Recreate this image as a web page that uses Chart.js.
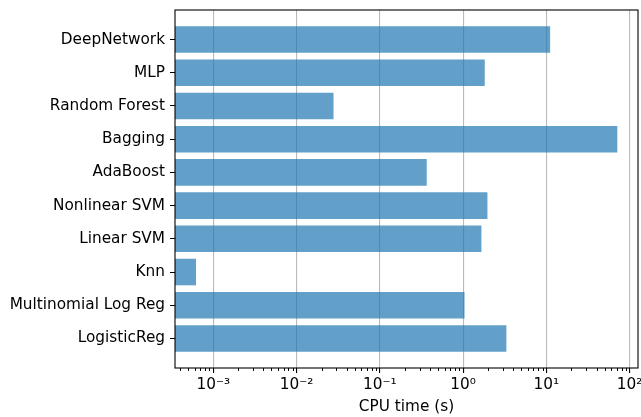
<!DOCTYPE html>
<html>
<head>
<meta charset="utf-8">
<script src="https://cdn.jsdelivr.net/npm/chart.js@4.4.1/dist/chart.umd.min.js"></script>
<style>
  html, body { margin:0; padding:0; background:#fff; }
  #wrap { width:641px; height:417px; }
</style>
</head>
<body>
<div id="wrap"><canvas id="c" width="641" height="417"></canvas></div>
<script>
// Data
const models = ['DeepNetwork', 'MLP', 'Random Forest', 'Bagging', 'AdaBoost', 'Nonlinear SVM', 'Linear SVM', 'Knn', 'Multinomial Log Reg', 'LogisticReg'];
const cpuTime = [11.1, 1.82, 0.0278, 71.1, 0.366, 1.96, 1.66, 0.00062, 1.04, 3.31];
const majorTicks = [1e-3, 1e-2, 1e-1, 1e0, 1e1, 1e2];
const majorLabels = ['10⁻³', '10⁻²', '10⁻¹', '10⁰', '10¹', '10²'];
const minorTicks = [
  4e-4, 5e-4, 6e-4, 7e-4, 8e-4, 9e-4,
  2e-3, 3e-3, 4e-3, 5e-3, 6e-3, 7e-3, 8e-3, 9e-3,
  2e-2, 3e-2, 4e-2, 5e-2, 6e-2, 7e-2, 8e-2, 9e-2,
  0.2, 0.3, 0.4, 0.5, 0.6, 0.7, 0.8, 0.9,
  2, 3, 4, 5, 6, 7, 8, 9,
  20, 30, 40, 50, 60, 70, 80, 90
];

const FONT = { family:"'DejaVu Sans', sans-serif", size:15.3 };
Chart.defaults.font = FONT;
Chart.defaults.color = '#000';

// frame + minor ticks like matplotlib
const frame = {
  id:'frame',
  afterDraw(chart) {
    const { ctx, chartArea:a, scales } = chart;
    ctx.save();
    ctx.strokeStyle = '#000';
    ctx.lineWidth = 1;
    ctx.beginPath();
    minorTicks.forEach(v => {
      const x = Math.round(scales.x.getPixelForValue(v)) + 0.5;
      ctx.moveTo(x, a.bottom); ctx.lineTo(x, a.bottom + 3);
    });
    ctx.stroke();
    ctx.lineWidth = 1.1;
    ctx.strokeRect(a.left, a.top, a.right - a.left, a.bottom - a.top);
    ctx.restore();
  }
};

new Chart(document.getElementById('c'), {
  type:'bar',
  data:{ datasets:[{
    data: cpuTime.map((v, i) => ({ x:v, y:i })),
    backgroundColor:'rgba(31,119,180,0.7)',
    borderWidth:0,
    barPercentage:0.8, categoryPercentage:1
  }] },
  options:{
    indexAxis:'y', responsive:false, animation:false,
    layout:{ padding:{ top:10, right:3, left:0, bottom:0 } },
    plugins:{ legend:{ display:false }, tooltip:{ enabled:false } },
    scales:{
      x:{
        type:'logarithmic', min:3.47e-4, max:126, bounds:'data',
        afterBuildTicks: s => { s.ticks = majorTicks.map(v => ({ value:v })); },
        afterFit: s => { s.height = 49; s.paddingLeft = 0; s.paddingRight = 0; },
        border:{ display:false },
        grid:{ color:'rgba(0,0,0,0.27)', lineWidth:1.1, tickColor:'#000', tickLength:5 },
        ticks:{ padding:3, autoSkip:false, maxRotation:0, callback:(v, i) => majorLabels[i] },
        title:{ display:true, text:'CPU time (s)', font:FONT, padding:{ top:0, bottom:1 } }
      },
      y:{
        type:'linear', min:-0.89, max:9.89, reverse:true, offset:false, bounds:'data',
        afterBuildTicks: s => { s.ticks = models.map((m, i) => ({ value:i })); },
        afterFit: s => { s.width = 175; s.paddingTop = 0; s.paddingBottom = 0; },
        border:{ display:false },
        grid:{ offset:false, drawOnChartArea:false, tickColor:'#000', tickLength:5 },
        ticks:{ padding:5, autoSkip:false, callback:(v) => models[v] }
      }
    }
  },
  plugins:[frame]
});
</script>
</body>
</html>
